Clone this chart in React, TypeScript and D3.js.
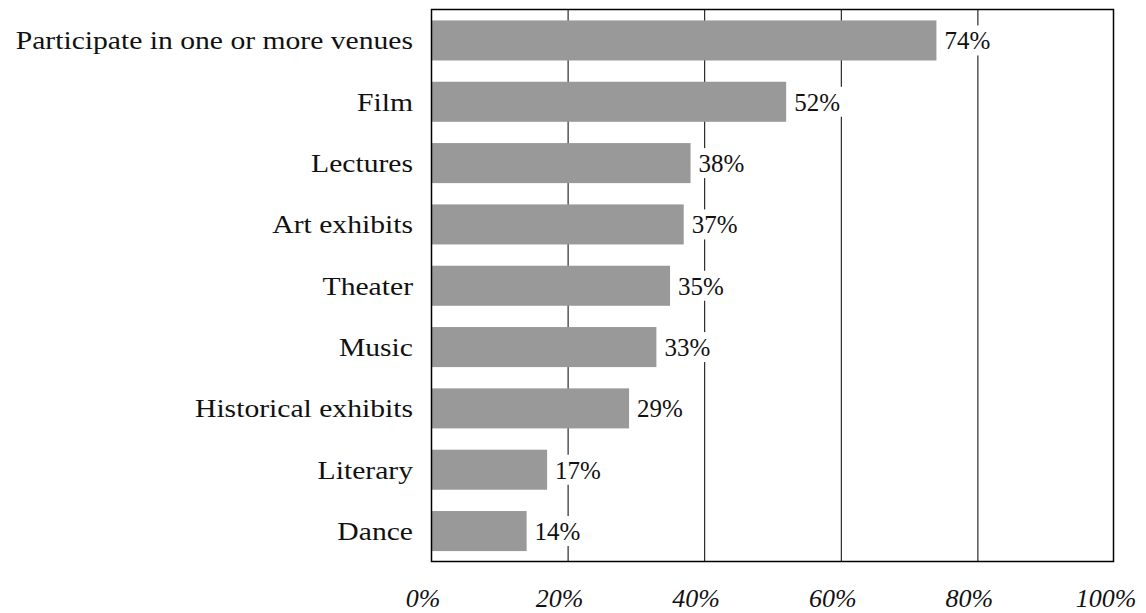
import React, { useEffect, useRef } from "react";
import * as d3 from "d3";

const categories = [
  "Participate in one or more venues",
  "Film",
  "Lectures",
  "Art exhibits",
  "Theater",
  "Music",
  "Historical exhibits",
  "Literary",
  "Dance",
];
const values = [74, 52, 38, 37, 35, 33, 29, 17, 14];
const tickValues = [0, 20, 40, 60, 80, 100];

const W = 1146;
const H = 613;
const left = 431;
const right = 1114;
const top = 9;
const bottom = 561;
const FONT = "'Liberation Serif', 'DejaVu Serif', serif";

export default function App() {
  const ref = useRef<SVGSVGElement>(null);

  useEffect(() => {
    const svg = d3.select(ref.current);
    svg.selectAll("*").remove();

    const x = d3.scaleLinear().domain([0, 100]).range([left, right]);
    const y = d3
      .scaleBand<string>()
      .domain(categories)
      .range([10, 561.5])
      .paddingInner(0.347)
      .paddingOuter(0.17);

    const g = svg.append("g");

    // gridlines
    g.selectAll("line.grid")
      .data(tickValues.slice(1, -1))
      .join("line")
      .attr("x1", (d) => x(d) + 0.5)
      .attr("x2", (d) => x(d) + 0.5)
      .attr("y1", top)
      .attr("y2", bottom)
      .attr("stroke", "#000")
      .attr("stroke-width", 1);

    // bars
    g.selectAll("rect.bar")
      .data(categories)
      .join("rect")
      .attr("x", x(0))
      .attr("y", (d) => y(d)!)
      .attr("width", (_, i) => x(values[i]) - x(0))
      .attr("height", y.bandwidth())
      .attr("fill", "#999999");

    // value labels with white background
    const lab = g
      .selectAll("g.val")
      .data(categories)
      .join("g")
      .attr(
        "transform",
        (d, i) => `translate(${x(values[i]) + 8},${y(d)! + y.bandwidth() / 2})`
      );
    lab
      .append("rect")
      .attr("x", -3)
      .attr("y", -15)
      .attr("width", 52)
      .attr("height", 30)
      .attr("fill", "#fff");
    lab
      .append("text")
      .attr("x", 0)
      .attr("y", 9)
      .attr("font-family", FONT)
      .attr("font-size", 25)
      .attr("fill", "#111")
      .text((_, i) => `${values[i]}%`);

    // frame
    g.append("rect")
      .attr("x", left + 0.5)
      .attr("y", top + 0.5)
      .attr("width", right - left - 1)
      .attr("height", bottom - top)
      .attr("fill", "none")
      .attr("stroke", "#000")
      .attr("stroke-width", 1.5);

    // category labels
    g.selectAll("text.cat")
      .data(categories)
      .join("text")
      .attr(
        "transform",
        (d) => `translate(413,${y(d)! + y.bandwidth() / 2 + 9}) scale(1.14,1)`
      )
      .attr("text-anchor", "end")
      .attr("font-family", FONT)
      .attr("font-size", 26)
      .attr("fill", "#111")
      .text((d) => d);

    // x tick labels
    g.selectAll("text.tick")
      .data(tickValues)
      .join("text")
      .attr("x", (d) => x(d) - 8)
      .attr("y", 607)
      .attr("text-anchor", "middle")
      .attr("font-family", FONT)
      .attr("font-style", "italic")
      .attr("font-size", 26)
      .attr("fill", "#111")
      .text((d) => `${d}%`);
  }, []);

  return (
    <svg
      ref={ref}
      width={W}
      height={H}
      style={{ position: "absolute", left: 0, top: 0, background: "#fff" }}
    />
  );
}
